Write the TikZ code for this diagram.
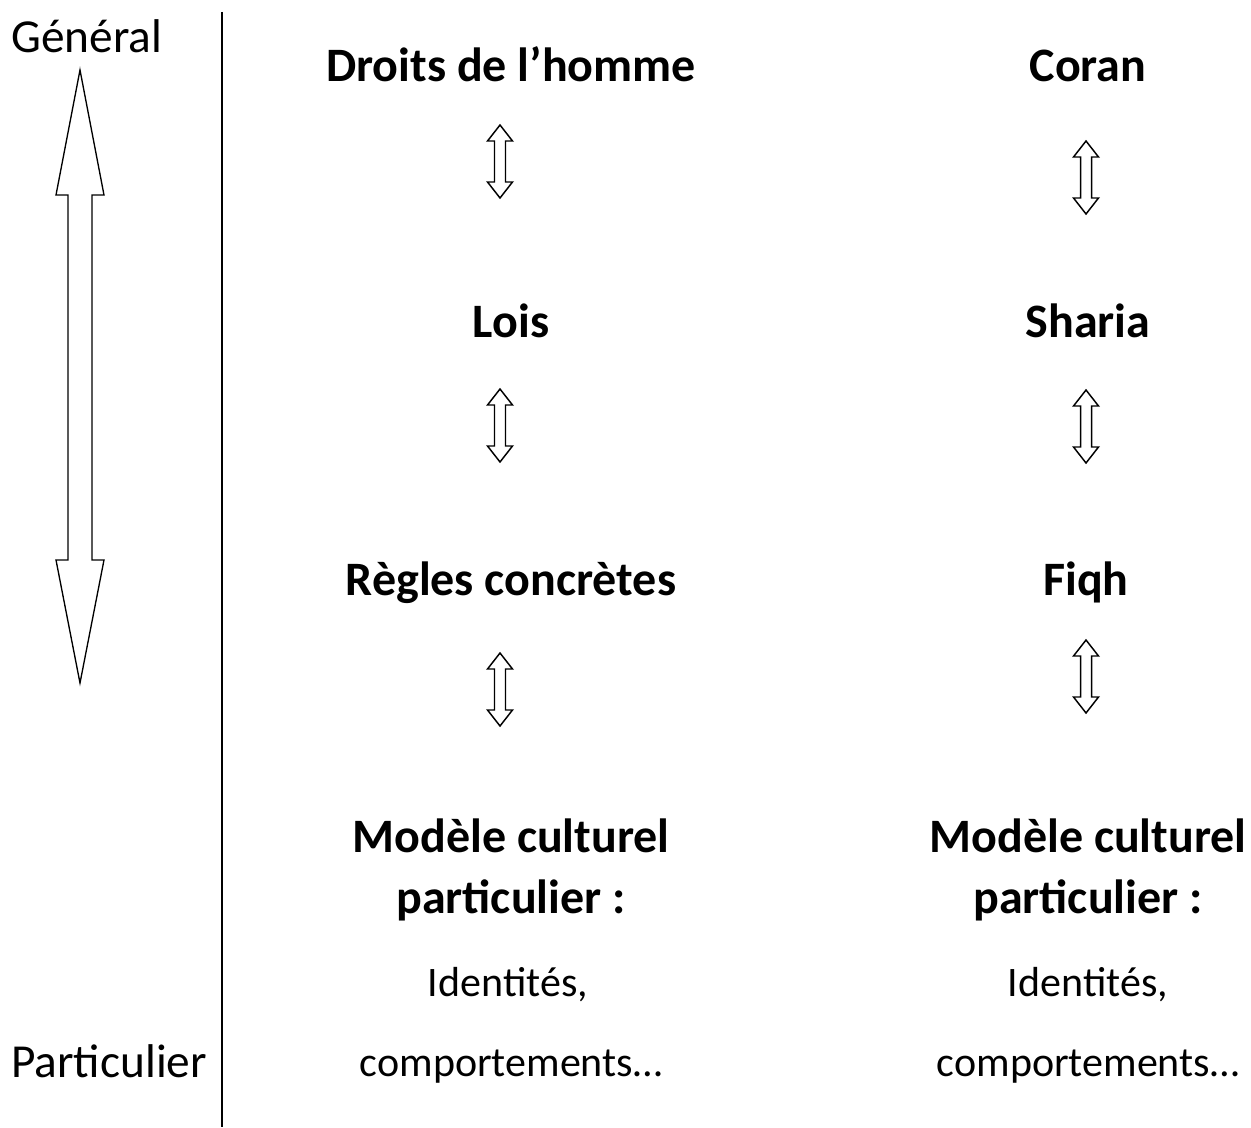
\documentclass[tikz,border=0pt]{standalone}
\usepackage{fontspec}
\setmainfont{Carlito}
\begin{document}
\begin{tikzpicture}[x=0.75pt,y=0.75pt,yscale=-1,xscale=1]
\tikzset{lbl/.style={anchor=base,inner sep=0.75pt,font=\fontsize{31.5}{38}\selectfont},
  cote/.style={lbl,anchor=base west,font=\fontsize{35.5}{42}\selectfont},
  titre/.style={lbl,font=\fontsize{36}{43}\selectfont\bfseries},
  fleche/.style={draw,line width=1.1pt,fill=white,line join=miter}}
\useasboundingbox (0,0) rectangle (1251,1127);

%Straight Lines [id:da1] 
\draw [line width=1.5pt]   (222,12) -- (222,1127) ;
%Up Down Arrow [id:dp1] 
\draw  [fleche,line width=1pt] (80,70) -- (104,195) -- (92,195) -- (92,560) -- (104,560) -- (80,683) -- (56,560) -- (68,560) -- (68,195) -- (56,195) -- cycle ;

% Text Node
\node [cote] (gen) at (10,53) {Général};
% Text Node
\node [cote] (part) at (10,1077) {Particulier};

% Text Node
\node [titre] (droits) at (511,82) {Droits de l’homme};
\node [titre] (lois) at (511,337) {Lois};
\node [titre] (regles) at (511,595) {Règles concrètes};
\node [titre] (modeleA) at (511,852) {Modèle culturel};
\node [titre] (particA) at (511,913) {particulier :};
\node [lbl] (identA) at (508,996) {Identités,};
\node [lbl] (compA) at (511,1076) {comportements…};

% Text Node
\node [titre] (coran) at (1088,82) {Coran};
\node [titre] (sharia) at (1088,337) {Sharia};
\node [titre] (fiqh) at (1086,595) {Fiqh};
\node [titre] (modeleB) at (1088,852) {Modèle culturel};
\node [titre] (particB) at (1088,913) {particulier :};
\node [lbl] (identB) at (1088,996) {Identités,};
\node [lbl] (compB) at (1088,1076) {comportements…};

%Up Down Arrows [id:dp2] 
\foreach \cx/\ty in {500/125,500/389,500/653,1086/141,1086/390,1086/640}
  \draw [fleche] (\cx,\ty) -- (\cx+12.5,\ty+16) -- (\cx+5.5,\ty+16) -- (\cx+5.5,\ty+57) -- (\cx+12.5,\ty+57) -- (\cx,\ty+73) -- (\cx-12.5,\ty+57) -- (\cx-5.5,\ty+57) -- (\cx-5.5,\ty+16) -- (\cx-12.5,\ty+16) -- cycle ;

\end{tikzpicture}
\end{document}
